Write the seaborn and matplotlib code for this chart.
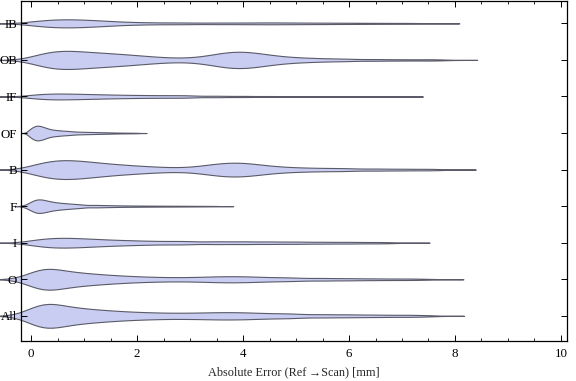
import numpy as np
import pandas as pd
import matplotlib
matplotlib.use("Agg")
import matplotlib.pyplot as plt
import seaborn as sns
from matplotlib.ticker import MultipleLocator

groups = ["IB", "OB", "IF", "OF", "B", "F", "I", "O", "All"]

# error values [mm] and number of scans at each value
ib_err = [0, .25, .5, .75, 1, 1.25, 1.5, 1.75, 2, 2.25, 2.5, 2.75, 3, 3.5, 4, 4.5, 5, 5.5, 6, 6.5, 7, 7.3]
ib_n = [21, 34, 43, 42, 38, 31, 23, 16, 12, 10, 9, 8, 12, 16, 16, 19, 16, 14, 12, 10, 8, 4]

ob_err = [0, .25, .5, .75, 1, 1.25, 1.5, 1.75, 2, 2.25, 2.5, 2.75, 3, 3.25, 3.5, 3.75, 4, 4.25, 4.5,
          4.75, 5, 5.25, 5.5, 5.75, 6, 6.5, 7, 7.5, 7.7]
ob_n = [23, 54, 69, 67, 60, 53, 48, 41, 34, 26, 19, 15, 16, 26, 44, 62, 63, 52, 37,
        25, 19, 15, 12, 9, 12, 12, 9, 8, 3]

if_err = [0, .25, .5, .75, 1, 1.25, 1.5, 1.75, 2, 2.25, 2.5, 2.75, 3, 3.5, 4, 4.5, 5, 5.5, 6, 6.5, 6.75]
if_n = [17, 27, 29, 27, 24, 21, 18, 16, 14, 13, 12, 12, 14, 13, 10, 8, 7, 6, 6, 5, 2]

of_err = [0, .1, .2, .3, .4, .5, .6, .7, .8, .9, 1.0, 1.1, 1.2, 1.3, 1.4, 1.5, 1.6, 1.7, 1.8, 1.9, 2.0]
of_n = [87, 130, 113, 78, 56, 48, 39, 35, 26, 22, 20, 18, 16, 14, 12, 10, 8, 7, 6, 5, 4]

b_err = [0, .25, .5, .75, 1, 1.25, 1.5, 1.75, 2, 2.25, 2.5, 2.75, 3, 3.25, 3.5, 3.75, 4, 4.25, 4.5,
         4.75, 5, 5.25, 5.5, 5.75, 6, 6.5, 7, 7.5, 7.65]
b_n = [33, 62, 78, 76, 66, 56, 45, 38, 31, 25, 20, 16, 20, 32, 48, 58, 56, 43, 30,
       22, 17, 15, 13, 11, 15, 16, 13, 10, 3]

f_err = [0, .1, .2, .3, .4, .5, .6, .7, .8, .9, 1.0, 1.2, 1.4, 1.6, 1.8, 2.0, 2.2, 2.4, 2.6, 2.8,
         3.0, 3.2, 3.4, 3.5]
f_n = [62, 94, 84, 62, 49, 42, 36, 32, 26, 23, 20, 30, 24, 19, 16, 14, 12, 11, 10, 9,
       8, 7, 5, 2]

i_err = [0, .25, .5, .75, 1, 1.25, 1.5, 1.75, 2, 2.25, 2.5, 2.75, 3, 3.5, 4, 4.5, 5, 5.5, 6, 6.5, 6.8]
i_n = [23, 40, 47, 44, 39, 33, 27, 24, 20, 17, 15, 15, 20, 25, 24, 22, 20, 16, 15, 11, 5]

o_err = [0, .25, .5, .75, 1, 1.25, 1.5, 1.75, 2, 2.25, 2.5, 2.75, 3, 3.25, 3.5, 3.75, 4, 4.25, 4.5,
         4.75, 5, 5.5, 6, 6.5, 7, 7.4]
o_n = [80, 150, 105, 82, 68, 57, 47, 38, 32, 27, 23, 22, 23, 27, 32, 35, 33, 28, 23,
       19, 26, 28, 23, 18, 15, 10]

all_err = o_err
all_n = [84, 160, 113, 89, 74, 63, 54, 45, 39, 35, 31, 30, 31, 33, 37, 38, 36, 31, 26,
         23, 31, 33, 29, 24, 19, 14]

errs = [ib_err, ob_err, if_err, of_err, b_err, f_err, i_err, o_err, all_err]
counts = [ib_n, ob_n, if_n, of_n, b_n, f_n, i_n, o_n, all_n]

frames = []
for name, err, n in zip(groups, errs, counts):
    frames.append(pd.DataFrame({"group": name, "error": np.repeat(err, n)}))
df = pd.concat(frames, ignore_index=True)

sns.set_style("ticks")
plt.rcParams["font.family"] = ["Liberation Serif", "DejaVu Serif"]
plt.rcParams["font.size"] = 9.3

fig = plt.figure(figsize=(5.76, 3.81), dpi=100)
ax = fig.add_axes([0.0356, 0.1058, 0.9484, 0.8924])

sns.violinplot(data=df, x="error", y="group", order=groups, orient="h",
               density_norm="count", cut=3, bw_method=0.13, inner=None,
               width=0.65, color="#c9cdf1", saturation=1,
               linecolor="#5a5a68", linewidth=0.8, ax=ax)

# like the original, the violin tails are not clipped at the frame
for c in ax.collections:
    c.set_clip_on(False)
ax.set_axisbelow(False)

ax.set_xlim(-0.2, 10.11)
ax.set_ylim(8.68, -0.62)
ax.xaxis.set_major_locator(MultipleLocator(2))
ax.xaxis.set_minor_locator(MultipleLocator(0.5))
ax.tick_params(which="both", direction="in", top=True, right=True, colors="black")
ax.tick_params(which="major", length=4, width=0.7, pad=2.5)
ax.tick_params(which="minor", length=2.5, width=0.6)
ax.tick_params(axis="x", pad=5)
for s in ax.spines.values():
    s.set_visible(True)
    s.set_color("black")
    s.set_linewidth(0.9)

ax.set_xlabel("Absolute Error (Ref\u2009\u2192Scan) [mm]", fontsize=8.8, labelpad=5)
ax.set_ylabel("")

fig.savefig("out.png", dpi=100)
